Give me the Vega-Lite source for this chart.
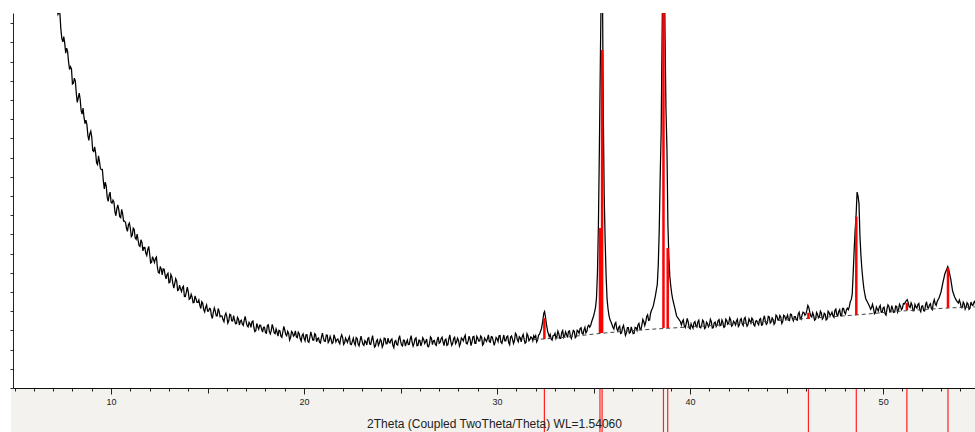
{
"$schema": "https://vega.github.io/schema/vega-lite/v6.json",
"width": 962, "height": 375,
"autosize": "none",
"padding": {"left": 13, "top": 13, "right": 0, "bottom": 44},
"background": "white",
"view": {"stroke": null},
"config": {"font": "Liberation Sans"},
"datasets": {
"band": [{"a": 4.82, "b": 60}],
"scan": [
{"t":7.0,"c":2078},{"t":7.1,"c":1994},{"t":7.2,"c":1979},{"t":7.3,"c":1957},{"t":7.4,"c":1869},{"t":7.5,"c":1803},{"t":7.6,"c":1796},{"t":7.7,"c":1770},{"t":7.8,"c":1698},{"t":7.9,"c":1673},
{"t":8.0,"c":1583},{"t":8.1,"c":1614},{"t":8.2,"c":1534},{"t":8.3,"c":1511},{"t":8.4,"c":1504},{"t":8.5,"c":1426},{"t":8.6,"c":1409},{"t":8.7,"c":1395},{"t":8.8,"c":1316},{"t":8.9,"c":1323},
{"t":9.0,"c":1307},{"t":9.1,"c":1232},{"t":9.2,"c":1226},{"t":9.3,"c":1164},{"t":9.4,"c":1179},{"t":9.5,"c":1137},{"t":9.6,"c":1079},{"t":9.7,"c":1072},{"t":9.8,"c":994},{"t":9.9,"c":1004},
{"t":10.0,"c":968},{"t":10.1,"c":978},{"t":10.2,"c":919},{"t":10.3,"c":933},{"t":10.4,"c":929},{"t":10.5,"c":887},{"t":10.6,"c":908},{"t":10.7,"c":869},{"t":10.8,"c":832},{"t":10.9,"c":850},
{"t":11.0,"c":832},{"t":11.1,"c":795},{"t":11.2,"c":826},{"t":11.3,"c":774},{"t":11.4,"c":770},{"t":11.5,"c":737},{"t":11.6,"c":758},{"t":11.7,"c":732},{"t":11.8,"c":703},{"t":11.9,"c":720},
{"t":12.0,"c":699},{"t":12.1,"c":655},{"t":12.2,"c":669},{"t":12.3,"c":675},{"t":12.4,"c":629},{"t":12.5,"c":598},{"t":12.6,"c":619},{"t":12.7,"c":621},{"t":12.8,"c":588},{"t":12.9,"c":591},
{"t":13.0,"c":548},{"t":13.1,"c":591},{"t":13.2,"c":545},{"t":13.3,"c":544},{"t":13.4,"c":557},{"t":13.5,"c":511},{"t":13.6,"c":516},{"t":13.7,"c":523},{"t":13.8,"c":477},{"t":13.9,"c":499},
{"t":14.0,"c":502},{"t":14.1,"c":466},{"t":14.2,"c":473},{"t":14.3,"c":445},{"t":14.4,"c":465},{"t":14.5,"c":446},{"t":14.6,"c":430},{"t":14.7,"c":449},{"t":14.8,"c":408},{"t":14.9,"c":420},
{"t":15.0,"c":400},{"t":15.1,"c":415},{"t":15.2,"c":377},{"t":15.3,"c":395},{"t":15.4,"c":400},{"t":15.5,"c":375},{"t":15.6,"c":399},{"t":15.7,"c":376},{"t":15.8,"c":355},{"t":15.9,"c":377},
{"t":16.0,"c":370},{"t":16.1,"c":350},{"t":16.2,"c":381},{"t":16.3,"c":349},{"t":16.4,"c":354},{"t":16.5,"c":336},{"t":16.6,"c":360},{"t":16.7,"c":348},{"t":16.8,"c":333},{"t":16.9,"c":354},
{"t":17.0,"c":346},{"t":17.1,"c":318},{"t":17.2,"c":334},{"t":17.3,"c":345},{"t":17.4,"c":315},{"t":17.5,"c":298},{"t":17.6,"c":319},{"t":17.7,"c":327},{"t":17.8,"c":307},{"t":17.9,"c":316},
{"t":18.0,"c":288},{"t":18.1,"c":326},{"t":18.2,"c":295},{"t":18.3,"c":299},{"t":18.4,"c":313},{"t":18.5,"c":283},{"t":18.6,"c":291},{"t":18.7,"c":301},{"t":18.8,"c":270},{"t":18.9,"c":293},
{"t":19.0,"c":302},{"t":19.1,"c":272},{"t":19.2,"c":285},{"t":19.3,"c":263},{"t":19.4,"c":289},{"t":19.5,"c":276},{"t":19.6,"c":266},{"t":19.7,"c":291},{"t":19.8,"c":256},{"t":19.9,"c":274},
{"t":20.0,"c":259},{"t":20.1,"c":277},{"t":20.2,"c":242},{"t":20.3,"c":263},{"t":20.4,"c":271},{"t":20.5,"c":249},{"t":20.6,"c":277},{"t":20.7,"c":257},{"t":20.8,"c":239},{"t":20.9,"c":265},
{"t":21.0,"c":261},{"t":21.1,"c":243},{"t":21.2,"c":276},{"t":21.3,"c":246},{"t":21.4,"c":253},{"t":21.5,"c":237},{"t":21.6,"c":262},{"t":21.7,"c":252},{"t":21.8,"c":239},{"t":21.9,"c":262},
{"t":22.0,"c":261},{"t":22.1,"c":236},{"t":22.2,"c":248},{"t":22.3,"c":256},{"t":22.4,"c":229},{"t":22.5,"c":243},{"t":22.6,"c":235},{"t":22.7,"c":263},{"t":22.8,"c":229},{"t":22.9,"c":245},
{"t":23.0,"c":248},{"t":23.1,"c":222},{"t":23.2,"c":239},{"t":23.3,"c":257},{"t":23.4,"c":229},{"t":23.5,"c":250},{"t":23.6,"c":241},{"t":23.7,"c":219},{"t":23.8,"c":252},{"t":23.9,"c":233},
{"t":24.0,"c":245},{"t":24.1,"c":225},{"t":24.2,"c":258},{"t":24.3,"c":231},{"t":24.4,"c":239},{"t":24.5,"c":250},{"t":24.6,"c":222},{"t":24.7,"c":242},{"t":24.8,"c":227},{"t":24.9,"c":255},
{"t":25.0,"c":244},{"t":25.1,"c":219},{"t":25.2,"c":248},{"t":25.3,"c":236},{"t":25.4,"c":226},{"t":25.5,"c":254},{"t":25.6,"c":238},{"t":25.7,"c":232},{"t":25.8,"c":261},{"t":25.9,"c":221},
{"t":26.0,"c":247},{"t":26.1,"c":235},{"t":26.2,"c":252},{"t":26.3,"c":241},{"t":26.4,"c":218},{"t":26.5,"c":232},{"t":26.6,"c":259},{"t":26.7,"c":245},{"t":26.8,"c":227},{"t":26.9,"c":252},
{"t":27.0,"c":233},{"t":27.1,"c":257},{"t":27.2,"c":240},{"t":27.3,"c":250},{"t":27.4,"c":222},{"t":27.5,"c":256},{"t":27.6,"c":244},{"t":27.7,"c":233},{"t":27.8,"c":264},{"t":27.9,"c":240},
{"t":28.0,"c":249},{"t":28.1,"c":231},{"t":28.2,"c":255},{"t":28.3,"c":265},{"t":28.4,"c":234},{"t":28.5,"c":245},{"t":28.6,"c":254},{"t":28.7,"c":240},{"t":28.8,"c":269},{"t":28.9,"c":233},
{"t":29.0,"c":259},{"t":29.1,"c":245},{"t":29.2,"c":264},{"t":29.3,"c":231},{"t":29.4,"c":251},{"t":29.5,"c":258},{"t":29.6,"c":241},{"t":29.7,"c":268},{"t":29.8,"c":245},{"t":29.9,"c":240},
{"t":30.0,"c":256},{"t":30.1,"c":272},{"t":30.2,"c":238},{"t":30.3,"c":256},{"t":30.4,"c":246},{"t":30.5,"c":266},{"t":30.6,"c":236},{"t":30.7,"c":265},{"t":30.8,"c":253},{"t":30.9,"c":246},
{"t":31.0,"c":277},{"t":31.1,"c":241},{"t":31.2,"c":261},{"t":31.3,"c":266},{"t":31.4,"c":254},{"t":31.5,"c":238},{"t":31.6,"c":273},{"t":31.7,"c":253},{"t":31.8,"c":261},{"t":31.9,"c":272},
{"t":32.0,"c":273},{"t":32.1,"c":251},{"t":32.2,"c":280},{"t":32.3,"c":310},{"t":32.36,"c":345},{"t":32.42,"c":390},{"t":32.46,"c":398},{"t":32.5,"c":375},{"t":32.56,"c":330},{"t":32.62,"c":295},
{"t":32.7,"c":267},{"t":32.8,"c":255},{"t":32.9,"c":272},{"t":33.0,"c":285},{"t":33.1,"c":269},{"t":33.2,"c":282},{"t":33.3,"c":258},{"t":33.4,"c":299},{"t":33.5,"c":271},{"t":33.6,"c":278},
{"t":33.7,"c":295},{"t":33.8,"c":269},{"t":33.9,"c":281},{"t":34.0,"c":295},{"t":34.1,"c":268},{"t":34.2,"c":296},{"t":34.3,"c":310},{"t":34.4,"c":285},{"t":34.5,"c":303},{"t":34.6,"c":287},
{"t":34.7,"c":320},{"t":34.8,"c":317},{"t":34.9,"c":345},{"t":35.0,"c":375},{"t":35.05,"c":395},{"t":35.1,"c":420},{"t":35.15,"c":470},{"t":35.2,"c":600},{"t":35.25,"c":850},{"t":35.3,"c":1250},
{"t":35.35,"c":1700},{"t":35.4,"c":2150},{"t":35.45,"c":2250},{"t":35.5,"c":1450},{"t":35.55,"c":1000},{"t":35.6,"c":760},{"t":35.65,"c":580},{"t":35.7,"c":460},{"t":35.75,"c":410},{"t":35.8,"c":375},
{"t":35.85,"c":355},{"t":35.9,"c":345},{"t":36.0,"c":316},{"t":36.1,"c":333},{"t":36.2,"c":309},{"t":36.3,"c":315},{"t":36.4,"c":284},{"t":36.5,"c":314},{"t":36.6,"c":300},{"t":36.7,"c":287},
{"t":36.8,"c":315},{"t":36.9,"c":290},{"t":37.0,"c":300},{"t":37.1,"c":285},{"t":37.2,"c":314},{"t":37.3,"c":330},{"t":37.4,"c":307},{"t":37.5,"c":328},{"t":37.6,"c":346},{"t":37.7,"c":342},
{"t":37.8,"c":381},{"t":37.9,"c":354},{"t":38.0,"c":405},{"t":38.05,"c":415},{"t":38.1,"c":430},{"t":38.15,"c":455},{"t":38.2,"c":480},{"t":38.25,"c":510},{"t":38.3,"c":540},{"t":38.35,"c":640},
{"t":38.4,"c":820},{"t":38.45,"c":1100},{"t":38.5,"c":1330},{"t":38.55,"c":1850},{"t":38.6,"c":2300},{"t":38.65,"c":2350},{"t":38.7,"c":1850},{"t":38.75,"c":1450},{"t":38.8,"c":1250},{"t":38.85,"c":850},
{"t":38.9,"c":680},{"t":38.95,"c":580},{"t":39.0,"c":530},{"t":39.05,"c":490},{"t":39.1,"c":462},{"t":39.2,"c":420},{"t":39.3,"c":375},{"t":39.4,"c":360},{"t":39.5,"c":345},{"t":39.6,"c":346},
{"t":39.7,"c":323},{"t":39.8,"c":337},{"t":39.9,"c":344},{"t":40.0,"c":308},{"t":40.1,"c":321},{"t":40.2,"c":340},{"t":40.3,"c":323},{"t":40.4,"c":344},{"t":40.5,"c":316},{"t":40.6,"c":329},
{"t":40.7,"c":347},{"t":40.8,"c":314},{"t":40.9,"c":336},{"t":41.0,"c":329},{"t":41.1,"c":346},{"t":41.2,"c":315},{"t":41.3,"c":343},{"t":41.4,"c":329},{"t":41.5,"c":356},{"t":41.6,"c":327},
{"t":41.7,"c":341},{"t":41.8,"c":320},{"t":41.9,"c":351},{"t":42.0,"c":337},{"t":42.1,"c":356},{"t":42.2,"c":327},{"t":42.3,"c":341},{"t":42.4,"c":349},{"t":42.5,"c":320},{"t":42.6,"c":355},
{"t":42.7,"c":334},{"t":42.8,"c":360},{"t":42.9,"c":340},{"t":43.0,"c":331},{"t":43.1,"c":349},{"t":43.2,"c":364},{"t":43.3,"c":329},{"t":43.4,"c":348},{"t":43.5,"c":337},{"t":43.6,"c":357},
{"t":43.7,"c":327},{"t":43.8,"c":360},{"t":43.9,"c":347},{"t":44.0,"c":338},{"t":44.1,"c":371},{"t":44.2,"c":344},{"t":44.3,"c":357},{"t":44.4,"c":340},{"t":44.5,"c":373},{"t":44.6,"c":355},
{"t":44.7,"c":369},{"t":44.8,"c":346},{"t":44.9,"c":375},{"t":45.0,"c":366},{"t":45.1,"c":354},{"t":45.2,"c":385},{"t":45.3,"c":360},{"t":45.4,"c":372},{"t":45.5,"c":356},{"t":45.6,"c":385},
{"t":45.7,"c":365},{"t":45.8,"c":381},{"t":45.9,"c":392},{"t":46.0,"c":385},{"t":46.05,"c":405},{"t":46.1,"c":430},{"t":46.15,"c":420},{"t":46.2,"c":395},{"t":46.3,"c":370},{"t":46.4,"c":378},
{"t":46.5,"c":358},{"t":46.6,"c":384},{"t":46.7,"c":370},{"t":46.8,"c":391},{"t":46.9,"c":366},{"t":47.0,"c":384},{"t":47.1,"c":360},{"t":47.2,"c":393},{"t":47.3,"c":383},{"t":47.4,"c":375},
{"t":47.5,"c":404},{"t":47.6,"c":382},{"t":47.7,"c":398},{"t":47.8,"c":377},{"t":47.9,"c":415},{"t":48.0,"c":394},{"t":48.1,"c":408},{"t":48.2,"c":408},{"t":48.25,"c":425},{"t":48.3,"c":450},
{"t":48.35,"c":460},{"t":48.4,"c":490},{"t":48.45,"c":600},{"t":48.5,"c":720},{"t":48.55,"c":820},{"t":48.6,"c":900},{"t":48.65,"c":1020},{"t":48.7,"c":1000},{"t":48.75,"c":960},{"t":48.8,"c":790},
{"t":48.85,"c":690},{"t":48.9,"c":620},{"t":48.95,"c":565},{"t":49.0,"c":520},{"t":49.05,"c":490},{"t":49.1,"c":465},{"t":49.2,"c":445},{"t":49.3,"c":425},{"t":49.4,"c":418},{"t":49.5,"c":416},
{"t":49.6,"c":392},{"t":49.7,"c":410},{"t":49.8,"c":421},{"t":49.9,"c":395},{"t":50.0,"c":417},{"t":50.1,"c":387},{"t":50.2,"c":412},{"t":50.3,"c":425},{"t":50.4,"c":400},{"t":50.5,"c":411},
{"t":50.6,"c":396},{"t":50.7,"c":425},{"t":50.8,"c":409},{"t":50.9,"c":426},{"t":51.0,"c":417},{"t":51.1,"c":438},{"t":51.2,"c":455},{"t":51.25,"c":460},{"t":51.3,"c":445},{"t":51.4,"c":419},
{"t":51.5,"c":431},{"t":51.6,"c":403},{"t":51.7,"c":422},{"t":51.8,"c":434},{"t":51.9,"c":407},{"t":52.0,"c":426},{"t":52.1,"c":402},{"t":52.2,"c":433},{"t":52.3,"c":419},{"t":52.4,"c":432},
{"t":52.5,"c":414},{"t":52.6,"c":445},{"t":52.7,"c":438},{"t":52.8,"c":450},{"t":52.9,"c":470},{"t":53.0,"c":500},{"t":53.1,"c":550},{"t":53.2,"c":595},{"t":53.3,"c":620},{"t":53.35,"c":632},
{"t":53.4,"c":615},{"t":53.5,"c":570},{"t":53.6,"c":505},{"t":53.7,"c":475},{"t":53.8,"c":455},{"t":53.9,"c":443},{"t":54.0,"c":442},{"t":54.1,"c":418},{"t":54.2,"c":438},{"t":54.3,"c":421},
{"t":54.4,"c":438},{"t":54.5,"c":416},{"t":54.6,"c":433},{"t":54.7,"c":446},{"t":54.8,"c":426},{"t":54.9,"c":439},
{"t":7.05,"c":2003},{"t":7.15,"c":2013},{"t":7.25,"c":1946},{"t":7.35,"c":1950},{"t":7.45,"c":1821},{"t":7.55,"c":1830},{"t":7.65,"c":1744},{"t":7.75,"c":1752},{"t":7.85,"c":1659},{"t":7.95,"c":1662},
{"t":8.05,"c":1587},{"t":8.15,"c":1598},{"t":8.25,"c":1487},{"t":8.35,"c":1536},{"t":8.45,"c":1445},{"t":8.55,"c":1458},{"t":8.65,"c":1377},{"t":8.75,"c":1370},{"t":8.85,"c":1289},{"t":8.95,"c":1337},
{"t":9.05,"c":1237},{"t":9.15,"c":1256},{"t":9.25,"c":1173},{"t":9.35,"c":1209},{"t":9.45,"c":1143},{"t":9.55,"c":1138},{"t":9.65,"c":1037},{"t":9.75,"c":1051},{"t":9.85,"c":972},{"t":9.95,"c":1020},
{"t":10.05,"c":963},{"t":10.15,"c":968},{"t":10.25,"c":897},{"t":10.35,"c":954},{"t":10.45,"c":892},{"t":10.55,"c":930},{"t":10.65,"c":869},{"t":10.75,"c":862},{"t":10.85,"c":816},{"t":10.95,"c":859},
{"t":11.05,"c":788},{"t":11.15,"c":833},{"t":11.25,"c":782},{"t":11.35,"c":802},{"t":11.45,"c":742},{"t":11.55,"c":772},{"t":11.65,"c":714},{"t":11.75,"c":732},{"t":11.85,"c":690},{"t":11.95,"c":738},
{"t":12.05,"c":651},{"t":12.15,"c":684},{"t":12.25,"c":654},{"t":12.35,"c":682},{"t":12.45,"c":602},{"t":12.55,"c":633},{"t":12.65,"c":589},{"t":12.75,"c":619},{"t":12.85,"c":568},{"t":12.95,"c":598},
{"t":13.05,"c":550},{"t":13.15,"c":579},{"t":13.25,"c":520},{"t":13.35,"c":569},{"t":13.45,"c":508},{"t":13.55,"c":536},{"t":13.65,"c":502},{"t":13.75,"c":530},{"t":13.85,"c":476},{"t":13.95,"c":525},
{"t":14.05,"c":462},{"t":14.15,"c":488},{"t":14.25,"c":444},{"t":14.35,"c":480},{"t":14.45,"c":446},{"t":14.55,"c":458},{"t":14.65,"c":414},{"t":14.75,"c":441},{"t":14.85,"c":396},{"t":14.95,"c":433},
{"t":15.05,"c":400},{"t":15.15,"c":412},{"t":15.25,"c":362},{"t":15.35,"c":417},{"t":15.45,"c":375},{"t":15.55,"c":414},{"t":15.65,"c":371},{"t":15.75,"c":375},{"t":15.85,"c":345},{"t":15.95,"c":389},
{"t":16.05,"c":338},{"t":16.15,"c":384},{"t":16.25,"c":350},{"t":16.35,"c":377},{"t":16.45,"c":335},{"t":16.55,"c":368},{"t":16.65,"c":328},{"t":16.75,"c":353},{"t":16.85,"c":326},{"t":16.95,"c":373},
{"t":17.05,"c":324},{"t":17.15,"c":342},{"t":17.25,"c":316},{"t":17.35,"c":349},{"t":17.45,"c":294},{"t":17.55,"c":336},{"t":17.65,"c":306},{"t":17.75,"c":326},{"t":17.85,"c":291},{"t":17.95,"c":317},
{"t":18.05,"c":285},{"t":18.15,"c":329},{"t":18.25,"c":282},{"t":18.35,"c":331},{"t":18.45,"c":288},{"t":18.55,"c":307},{"t":18.65,"c":270},{"t":18.75,"c":298},{"t":18.85,"c":264},{"t":18.95,"c":321},
{"t":19.05,"c":279},{"t":19.15,"c":295},{"t":19.25,"c":250},{"t":19.35,"c":295},{"t":19.45,"c":270},{"t":19.55,"c":298},{"t":19.65,"c":262},{"t":19.75,"c":283},{"t":19.85,"c":244},{"t":19.95,"c":282},
{"t":20.05,"c":246},{"t":20.15,"c":278},{"t":20.25,"c":238},{"t":20.35,"c":292},{"t":20.45,"c":250},{"t":20.55,"c":283},{"t":20.65,"c":241},{"t":20.75,"c":260},{"t":20.85,"c":234},{"t":20.95,"c":286},
{"t":21.05,"c":244},{"t":21.15,"c":276},{"t":21.25,"c":237},{"t":21.35,"c":269},{"t":21.45,"c":232},{"t":21.55,"c":277},{"t":21.65,"c":240},{"t":21.75,"c":255},{"t":21.85,"c":230},{"t":21.95,"c":277},
{"t":22.05,"c":227},{"t":22.15,"c":260},{"t":22.25,"c":237},{"t":22.35,"c":268},{"t":22.45,"c":226},{"t":22.55,"c":259},{"t":22.65,"c":223},{"t":22.75,"c":258},{"t":22.85,"c":219},{"t":22.95,"c":270},
{"t":23.05,"c":227},{"t":23.15,"c":247},{"t":23.25,"c":224},{"t":23.35,"c":262},{"t":23.45,"c":227},{"t":23.55,"c":273},{"t":23.65,"c":213},{"t":23.75,"c":245},{"t":23.85,"c":222},{"t":23.95,"c":254},
{"t":24.05,"c":213},{"t":24.15,"c":260},{"t":24.25,"c":230},{"t":24.35,"c":260},{"t":24.45,"c":235},{"t":24.55,"c":256},{"t":24.65,"c":210},{"t":24.75,"c":247},{"t":24.85,"c":223},{"t":24.95,"c":273},
{"t":25.05,"c":224},{"t":25.15,"c":250},{"t":25.25,"c":218},{"t":25.35,"c":250},{"t":25.45,"c":227},{"t":25.55,"c":273},{"t":25.65,"c":218},{"t":25.75,"c":256},{"t":25.85,"c":220},{"t":25.95,"c":249},
{"t":26.05,"c":219},{"t":26.15,"c":262},{"t":26.25,"c":232},{"t":26.35,"c":255},{"t":26.45,"c":215},{"t":26.55,"c":266},{"t":26.65,"c":226},{"t":26.75,"c":248},{"t":26.85,"c":222},{"t":26.95,"c":266},
{"t":27.05,"c":237},{"t":27.15,"c":265},{"t":27.25,"c":221},{"t":27.35,"c":255},{"t":27.45,"c":226},{"t":27.55,"c":277},{"t":27.65,"c":222},{"t":27.75,"c":258},{"t":27.85,"c":231},{"t":27.95,"c":260},
{"t":28.05,"c":218},{"t":28.15,"c":261},{"t":28.25,"c":245},{"t":28.35,"c":275},{"t":28.45,"c":230},{"t":28.55,"c":270},{"t":28.65,"c":221},{"t":28.75,"c":267},{"t":28.85,"c":233},{"t":28.95,"c":269},
{"t":29.05,"c":244},{"t":29.15,"c":271},{"t":29.25,"c":224},{"t":29.35,"c":260},{"t":29.45,"c":242},{"t":29.55,"c":277},{"t":29.65,"c":238},{"t":29.75,"c":266},{"t":29.85,"c":222},{"t":29.95,"c":263},
{"t":30.05,"c":242},{"t":30.15,"c":273},{"t":30.25,"c":232},{"t":30.35,"c":276},{"t":30.45,"c":246},{"t":30.55,"c":271},{"t":30.65,"c":225},{"t":30.75,"c":271},{"t":30.85,"c":232},{"t":30.95,"c":285},
{"t":31.05,"c":251},{"t":31.15,"c":267},{"t":31.25,"c":240},{"t":31.35,"c":279},{"t":31.45,"c":233},{"t":31.55,"c":283},{"t":31.65,"c":246},{"t":31.75,"c":266},{"t":31.85,"c":246},{"t":31.95,"c":262},
{"t":32.05,"c":240},{"t":32.15,"c":276},{"t":32.75,"c":279},{"t":32.85,"c":249},{"t":32.95,"c":274},{"t":33.05,"c":257},{"t":33.15,"c":296},{"t":33.25,"c":258},{"t":33.35,"c":289},{"t":33.45,"c":263},
{"t":33.55,"c":293},{"t":33.65,"c":263},{"t":33.75,"c":297},{"t":33.85,"c":258},{"t":33.95,"c":300},{"t":34.05,"c":262},{"t":34.15,"c":301},{"t":34.25,"c":285},{"t":34.35,"c":314},{"t":34.45,"c":280},
{"t":34.55,"c":316},{"t":34.65,"c":294},{"t":34.75,"c":327},{"t":34.85,"c":325},
{"t":36.05,"c":307},{"t":36.15,"c":341},{"t":36.25,"c":297},{"t":36.35,"c":322},{"t":36.45,"c":287},{"t":36.55,"c":326},{"t":36.65,"c":274},{"t":36.75,"c":315},{"t":36.85,"c":286},{"t":36.95,"c":318},
{"t":37.05,"c":283},{"t":37.15,"c":316},{"t":37.25,"c":300},{"t":37.35,"c":337},{"t":37.45,"c":304},{"t":37.55,"c":357},{"t":37.65,"c":325},{"t":37.75,"c":372},{"t":37.85,"c":352},{"t":37.95,"c":388},
{"t":39.55,"c":328},{"t":39.65,"c":355},{"t":39.75,"c":315},{"t":39.85,"c":363},{"t":39.95,"c":314},{"t":40.05,"c":334},{"t":40.15,"c":311},{"t":40.25,"c":346},{"t":40.35,"c":317},{"t":40.45,"c":353},
{"t":40.55,"c":313},{"t":40.65,"c":354},{"t":40.75,"c":309},{"t":40.85,"c":343},{"t":40.95,"c":319},{"t":41.05,"c":358},{"t":41.15,"c":312},{"t":41.25,"c":339},{"t":41.35,"c":320},{"t":41.45,"c":351},
{"t":41.55,"c":324},{"t":41.65,"c":354},{"t":41.75,"c":316},{"t":41.85,"c":358},{"t":41.95,"c":332},{"t":42.05,"c":366},{"t":42.15,"c":322},{"t":42.25,"c":348},{"t":42.35,"c":328},{"t":42.45,"c":358},
{"t":42.55,"c":328},{"t":42.65,"c":361},{"t":42.75,"c":325},{"t":42.85,"c":368},{"t":42.95,"c":322},{"t":43.05,"c":360},{"t":43.15,"c":338},{"t":43.25,"c":357},{"t":43.35,"c":323},{"t":43.45,"c":351},
{"t":43.55,"c":329},{"t":43.65,"c":362},{"t":43.75,"c":329},{"t":43.85,"c":376},{"t":43.95,"c":331},{"t":44.05,"c":374},{"t":44.15,"c":338},{"t":44.25,"c":365},{"t":44.35,"c":332},{"t":44.45,"c":380},
{"t":44.55,"c":354},{"t":44.65,"c":378},{"t":44.75,"c":336},{"t":44.85,"c":379},{"t":44.95,"c":357},{"t":45.05,"c":380},{"t":45.15,"c":351},{"t":45.25,"c":383},{"t":45.35,"c":350},{"t":45.45,"c":372},
{"t":45.55,"c":353},{"t":45.65,"c":395},{"t":45.75,"c":358},{"t":45.85,"c":395},{"t":45.95,"c":379},
{"t":46.25,"c":375},{"t":46.35,"c":392},{"t":46.45,"c":353},{"t":46.55,"c":393},{"t":46.65,"c":365},{"t":46.75,"c":400},{"t":46.85,"c":359},{"t":46.95,"c":389},{"t":47.05,"c":355},{"t":47.15,"c":400},
{"t":47.25,"c":378},{"t":47.35,"c":395},{"t":47.45,"c":368},{"t":47.55,"c":411},{"t":47.65,"c":376},{"t":47.75,"c":408},{"t":47.85,"c":377},{"t":47.95,"c":415},{"t":48.05,"c":385},{"t":48.15,"c":416},
{"t":49.35,"c":410},{"t":49.45,"c":436},{"t":49.55,"c":386},{"t":49.65,"c":421},{"t":49.75,"c":401},{"t":49.85,"c":430},{"t":49.95,"c":394},{"t":50.05,"c":421},{"t":50.15,"c":380},{"t":50.25,"c":433},
{"t":50.35,"c":396},{"t":50.45,"c":429},{"t":50.55,"c":394},{"t":50.65,"c":427},{"t":50.75,"c":395},{"t":50.85,"c":436},{"t":50.95,"c":408},{"t":51.05,"c":440},
{"t":51.35,"c":424},{"t":51.45,"c":443},{"t":51.55,"c":402},{"t":51.65,"c":435},{"t":51.75,"c":416},{"t":51.85,"c":440},{"t":51.95,"c":397},{"t":52.05,"c":428},{"t":52.15,"c":401},{"t":52.25,"c":449},
{"t":52.35,"c":416},{"t":52.45,"c":439},{"t":52.55,"c":408},{"t":52.65,"c":460},{"t":52.75,"c":430},
{"t":53.95,"c":458},{"t":54.05,"c":418},{"t":54.15,"c":447},{"t":54.25,"c":410},{"t":54.35,"c":444},{"t":54.45,"c":410},{"t":54.55,"c":448},{"t":54.65,"c":430},{"t":54.75,"c":452},{"t":54.85,"c":411}
],
"bg": [
{"t":31.9,"c":252},{"t":33.26,"c":262},{"t":35.33,"c":284},{"t":37.41,"c":302},{"t":39.48,"c":315},{"t":41.55,"c":328},{"t":43.63,"c":344},{"t":45.7,"c":360},{"t":48.29,"c":378},{"t":50.88,"c":400},{"t":53.47,"c":417},{"t":54.9,"c":423}
],
"sticks": [
{"t":32.45,"lo":255,"hi":365},{"t":35.33,"lo":286,"hi":833},{"t":35.44,"lo":286,"hi":1760},{"t":38.62,"lo":312,"hi":2200},{"t":38.84,"lo":312,"hi":729},{"t":46.13,"lo":359,"hi":392},{"t":48.61,"lo":380,"hi":892},{"t":51.23,"lo":406,"hi":443},{"t":53.36,"lo":417,"hi":625}
]
},
"layer": [
{
"data": {"name": "band"},
"mark": {"type": "rect", "clip": false, "color": "#f3f2ef"},
"encoding": {
"x": {"field": "a", "type": "quantitative", "scale": {"domain": [4.92, 54.76], "nice": false, "zero": false},
"axis": {"orient": "bottom", "values": [5,6,7,8,9,11,12,13,14,16,17,18,19,21,22,23,24,26,27,28,29,31,32,33,34,36,37,38,39,41,42,43,44,46,47,48,49,51,52,53,54], "tickSize": 3, "tickColor": "#222", "labels": false, "domain": false, "grid": false, "title": null, "zindex": 2}},
"x2": {"field": "b"},
"y": {"datum": 0, "type": "quantitative", "scale": {"domain": [0, 1953], "nice": false, "zero": false},
"axis": {"orient": "left", "values": [0,100,200,300,400,500,600,700,800,900,1000,1100,1200,1300,1400,1500,1600,1700,1800,1900], "tickSize": 3, "tickColor": "#333", "labels": false, "domain": true, "domainColor": "#222", "grid": false, "title": null, "zindex": 2}},
"y2": {"datum": -300}
}
},
{
"data": {"name": "scan"},
"mark": {"type": "line", "clip": true, "color": "#000000", "strokeWidth": 1.25},
"encoding": {
"x": {"field": "t", "type": "quantitative", "scale": {"domain": [4.92, 54.76], "nice": false, "zero": false},
"axis": {"orient": "bottom", "values": [10,20,30,40,50], "tickSize": 6, "tickColor": "#222", "domain": true, "domainColor": "#111", "grid": false, "labelFontSize": 9, "labelColor": "#222", "labelPadding": 3, "title": "2Theta (Coupled TwoTheta/Theta) WL=1.54060", "titleFontSize": 12, "titleFontWeight": "normal", "titleColor": "#222", "titlePadding": 12, "zindex": 2}},
"y": {"field": "c", "type": "quantitative", "scale": {"domain": [0, 1953], "nice": false, "zero": false}, "axis": null}
}
},
{
"data": {"name": "bg"},
"mark": {"type": "line", "clip": true, "color": "#444444", "strokeWidth": 1, "strokeDash": [4, 3], "interpolate": "monotone"},
"encoding": {
"x": {"field": "t", "type": "quantitative", "scale": {"domain": [4.92, 54.76], "nice": false, "zero": false},
"axis": {"orient": "bottom", "values": [15,25,35,45], "tickSize": 5, "tickColor": "#222", "labels": false, "domain": false, "grid": false, "title": null, "zindex": 2}},
"y": {"field": "c", "type": "quantitative", "scale": {"domain": [0, 1953], "nice": false, "zero": false}, "axis": null}
}
},
{
"data": {"name": "sticks"},
"mark": {"type": "rule", "clip": true, "color": "#ff0000", "strokeWidth": 2.5},
"encoding": {
"x": {"field": "t", "type": "quantitative", "scale": {"domain": [4.92, 54.76], "nice": false, "zero": false}, "axis": null},
"y": {"field": "lo", "type": "quantitative", "scale": {"domain": [0, 1953], "nice": false, "zero": false}, "axis": null},
"y2": {"field": "hi"}
}
},
{
"data": {"name": "sticks"},
"mark": {"type": "rule", "clip": false, "color": "#ff2020", "strokeWidth": 1.2},
"encoding": {
"x": {"field": "t", "type": "quantitative", "scale": {"domain": [4.92, 54.76], "nice": false, "zero": false}, "axis": null},
"y": {"datum": 0, "type": "quantitative", "scale": {"domain": [0, 1953], "nice": false, "zero": false}, "axis": null},
"y2": {"datum": -300}
}
}
],
"resolve": {"axis": {"x": "independent", "y": "independent"}}
}
